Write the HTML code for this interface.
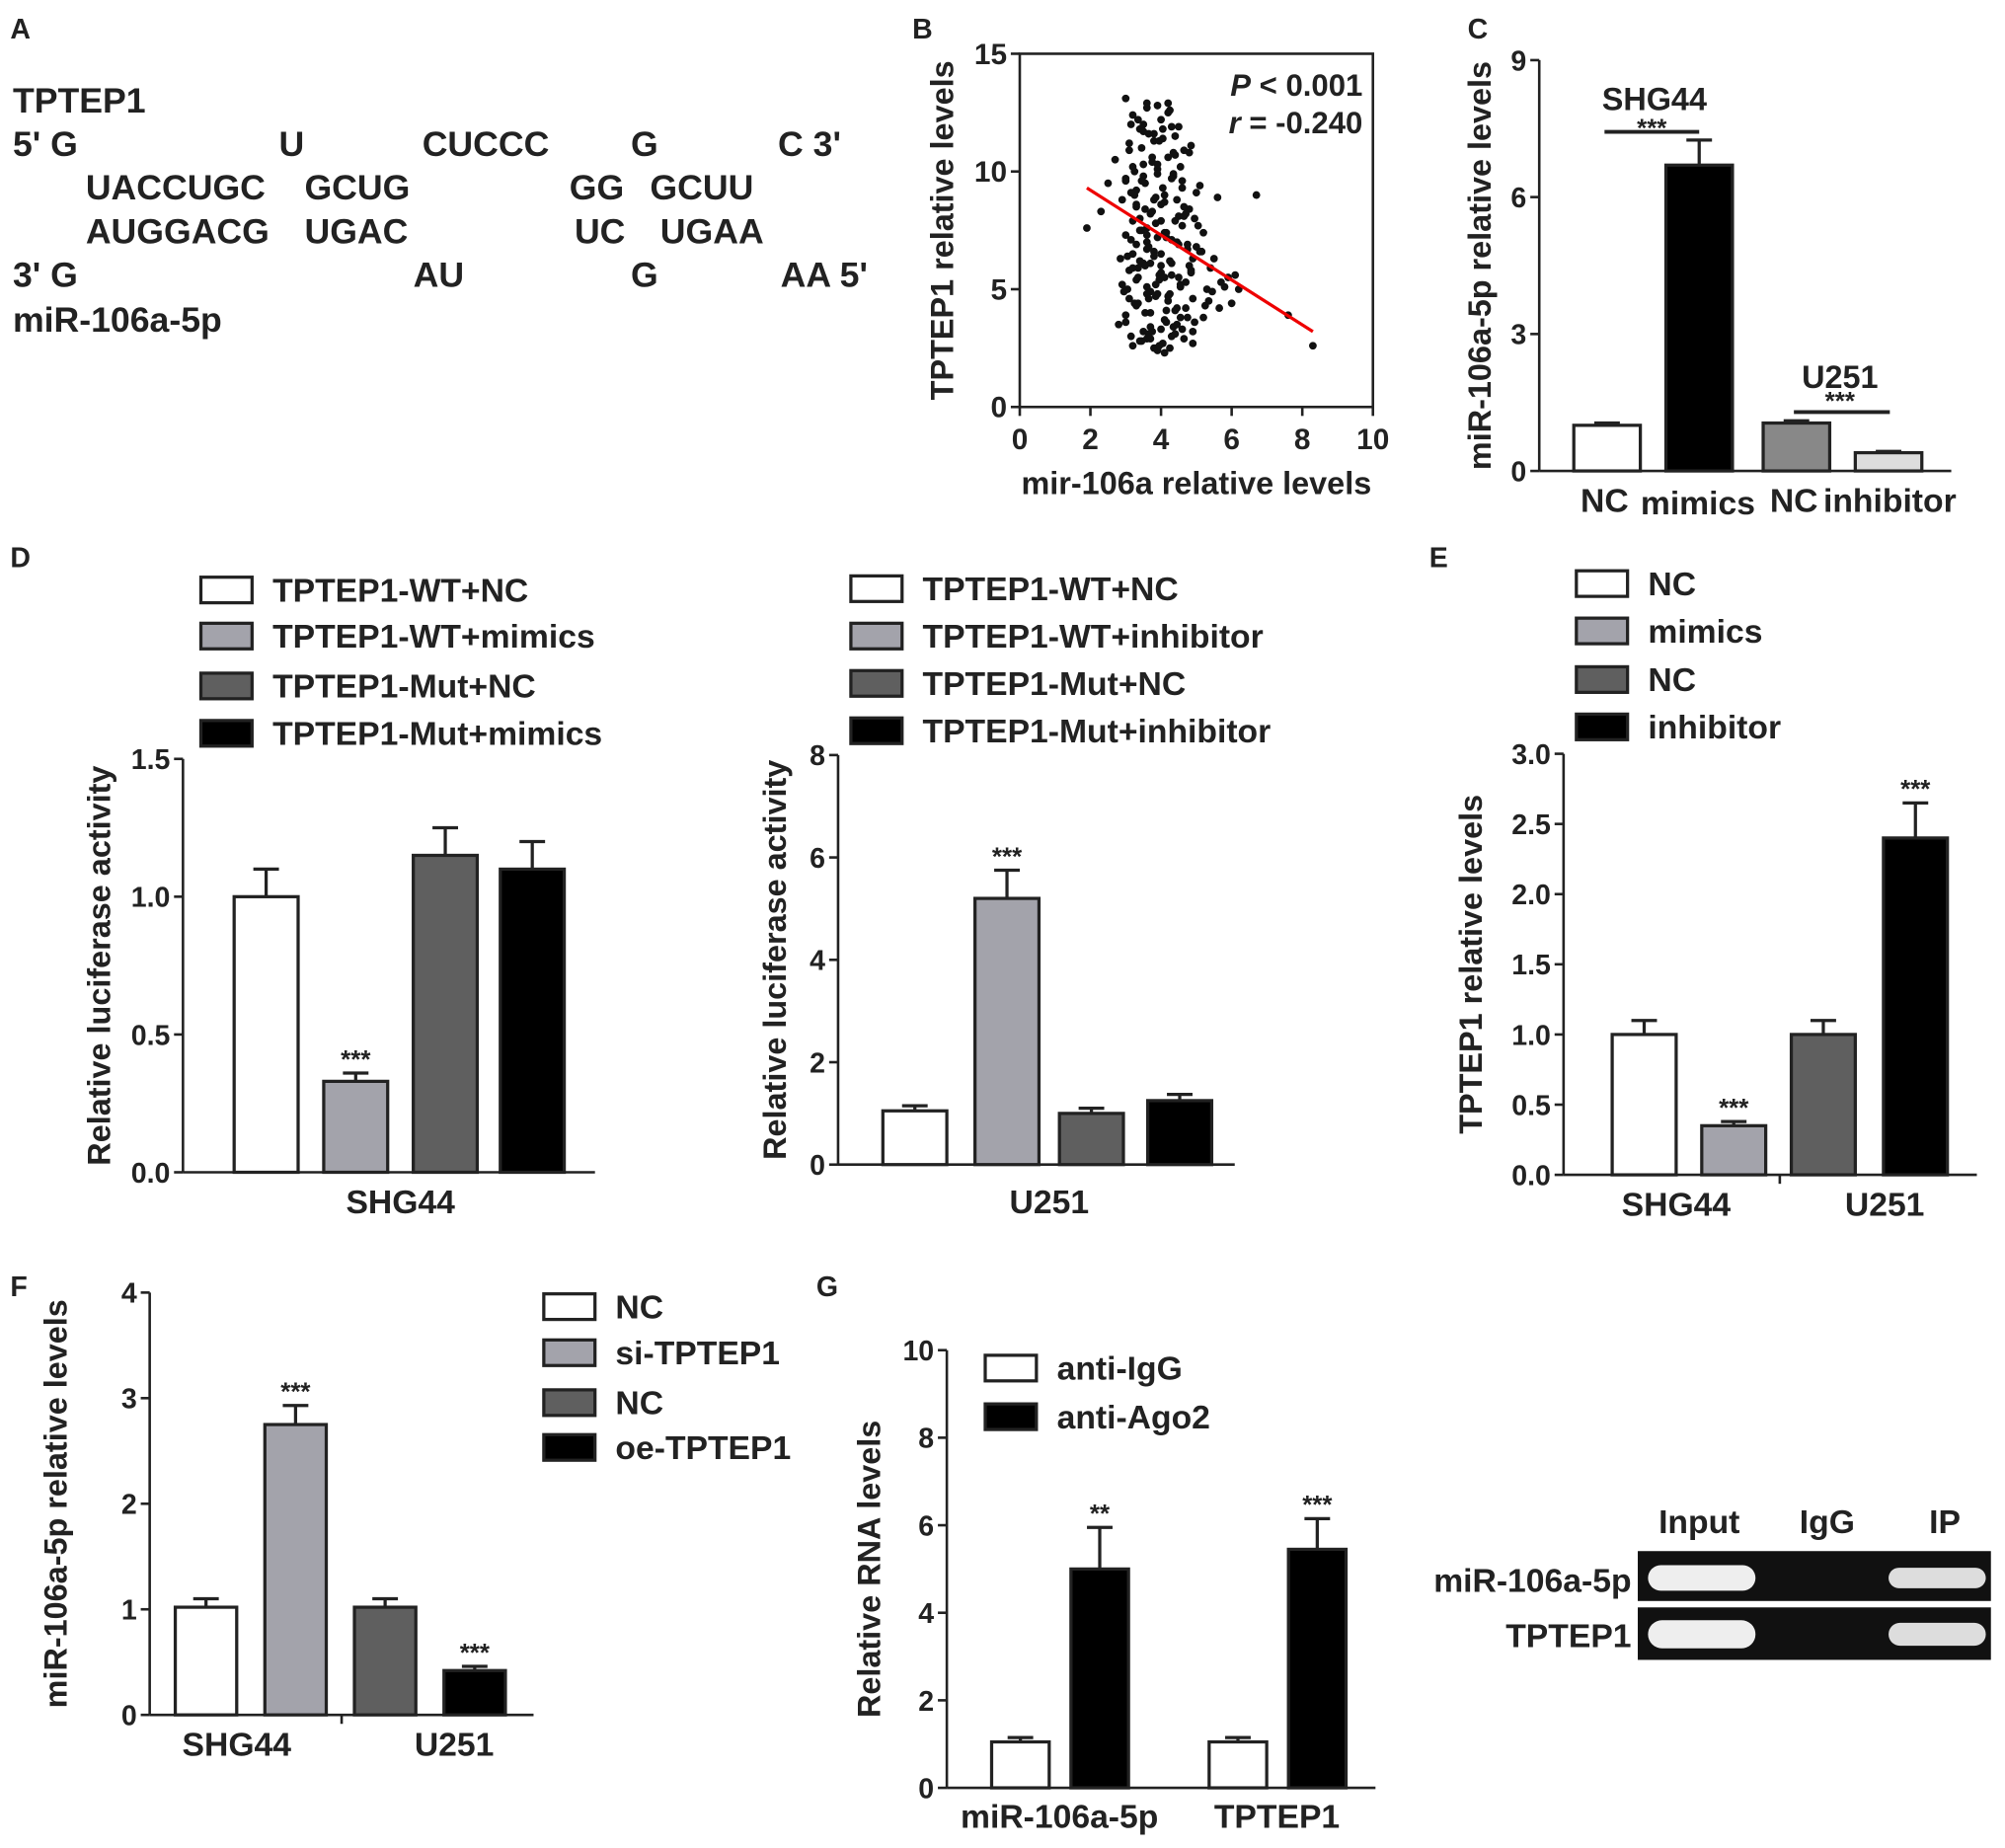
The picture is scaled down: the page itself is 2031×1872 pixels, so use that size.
<!DOCTYPE html>
<html><head><meta charset="utf-8"><style>
html,body{margin:0;padding:0;background:#fff}
svg{display:block;font-family:"Liberation Sans",Arial,sans-serif;font-weight:bold}
</style></head><body>
<svg id="fig" width="2031" height="1872" viewBox="0 0 1567 1444" preserveAspectRatio="none" xmlns="http://www.w3.org/2000/svg">
<g font-size="27.5" fill="#222">
<text x="8" y="30" font-size="22">A</text>
<text x="10" y="88">TPTEP1</text>
<text x="10" y="122">5' G</text><text x="218" y="122">U</text><text x="330" y="122">CUCCC</text><text x="493" y="122">G</text><text x="608" y="122">C 3'</text>
<text x="67" y="156">UACCUGC</text><text x="238" y="156">GCUG</text><text x="445" y="156">GG</text><text x="508" y="156">GCUU</text>
<text x="67" y="190">AUGGACG</text><text x="238" y="190">UGAC</text><text x="449" y="190">UC</text><text x="516" y="190">UGAA</text>
<text x="10" y="224">3' G</text><text x="323" y="224">AU</text><text x="493" y="224">G</text><text x="610" y="224">AA 5'</text>
<text x="10" y="259">miR-106a-5p</text>
</g>
<g font-size="22" fill="#222">
<text x="713" y="30">B</text><text x="1147" y="30">C</text><text x="8" y="443">D</text><text x="1117" y="443">E</text><text x="8" y="1013">F</text><text x="638" y="1013">G</text>
</g>
<g id="panelB"></g>
<g id="charts"></g>
<g>
<text x="1328" y="1198" font-size="26" text-anchor="middle" fill="#222">Input</text>
<text x="1428" y="1198" font-size="26" text-anchor="middle" fill="#222">IgG</text>
<text x="1520" y="1198" font-size="26" text-anchor="middle" fill="#222">IP</text>
<text x="1275" y="1244" font-size="26" text-anchor="end" fill="#222">miR-106a-5p</text>
<text x="1275" y="1287" font-size="26" text-anchor="end" fill="#222">TPTEP1</text>
<rect x="1280" y="1212" width="276" height="39" fill="#111"/>
<rect x="1280" y="1256" width="276" height="41" fill="#111"/>
<rect x="1288" y="1223" width="84" height="20" rx="10" fill="#eee"/>
<rect x="1476" y="1225" width="76" height="16" rx="8" fill="#ddd"/>
<rect x="1288" y="1266" width="84" height="22" rx="11" fill="#eee"/>
<rect x="1476" y="1268" width="76" height="18" rx="9" fill="#ddd"/>
</g>
</svg>
<script>
const NS="http://www.w3.org/2000/svg";
function mk(p,t,a,txt){const e=document.createElementNS(NS,t);for(const k in a)e.setAttribute(k,a[k]);if(txt!==undefined)e.textContent=txt;p.appendChild(e);return e;}
// ---- Panel B data ----
const scatterX=[3.0,3.2,3.4,3.1,3.6,3.8,4.0,4.2,3.5,3.3,3.9,4.4,4.6,4.1,3.7,3.2,3.0,2.9,3.3,3.6,4.8,5.0,4.3,3.8,3.4,3.1,4.0,4.5,5.2,5.5,3.6,3.9,4.2,4.7,3.3,3.0,2.8,3.5,4.1,4.4,4.9,5.3,3.7,3.2,3.8,4.3,4.6,3.4,3.9,4.0,2.7,3.1,3.6,4.2,4.8,5.1,5.6,3.5,3.0,4.5,3.8,3.3,4.1,4.6,5.0,3.7,3.2,4.4,3.9,3.4,4.0,4.3,4.7,3.6,3.1,5.4,5.8,6.0,3.8,4.2,3.5,2.9,4.9,4.1,3.7,3.3,4.5,3.0,3.9,4.4,5.2,3.6,4.0,3.4,4.8,1.9,2.3,2.5,6.7,7.6,6.2,8.3,5.9,3.2,4.6,3.8,4.1,3.5,4.3,3.7,5.1,3.0,4.9,3.6,4.2,
3.15,3.45,3.75,4.05,4.35,4.65,4.95,3.25,3.55,3.85,4.15,4.45,4.75,5.05,3.05,3.35,3.65,3.95,4.25,4.55,4.85,5.15,2.95,3.25,3.55,3.85,4.15,4.45,4.75,3.15,3.45,3.75,4.05,4.35,4.65,4.95,5.25,3.35,3.65,3.95,4.25,4.55,4.85,2.85,3.15,3.45,3.75,4.05,4.35,4.65,3.05,3.35,3.65,3.95,4.25,4.55,4.85,5.35,5.7,3.25,3.55,3.85,4.15,4.45,4.75,3.15,3.45,3.75,4.05,4.35,4.65,3.55,3.85,4.15,4.45,3.35,3.65,3.95,4.25,4.55,5.45,5.65,6.1,3.9,4.3,3.6,4.0,4.4,3.3,3.7,4.1,4.5,4.9,3.5,3.9,4.3,4.7,3.2,3.6,4.0];
const scatterY=[13.1,12.4,11.8,10.9,12.7,11.3,12.2,10.6,9.8,9.2,10.1,11.5,9.6,8.7,8.2,7.9,7.3,8.8,6.9,7.6,8.4,9.1,7.1,6.6,6.2,5.8,6.0,5.5,7.4,6.3,5.1,4.8,4.5,5.3,4.3,3.9,3.5,3.2,3.7,4.1,4.6,5.0,2.9,2.6,2.5,3.0,3.3,8.0,7.2,5.7,10.5,11.2,12.9,12.5,10.8,9.4,8.9,10.3,9.6,11.9,6.4,5.4,9.0,7.7,6.8,4.0,6.5,3.1,2.4,2.8,8.6,6.1,4.2,7.0,4.6,5.9,5.1,4.4,11.6,12.9,12.0,5.2,2.7,2.3,3.4,8.5,8.1,3.6,9.9,10.7,3.8,6.7,7.9,7.5,6.0,7.6,8.3,9.5,9.0,3.9,5.0,2.6,5.5,10.2,9.3,8.8,7.4,6.1,5.6,4.9,6.6,9.7,3.2,2.9,4.7,
12.0,11.0,10.4,11.8,9.8,10.9,8.0,9.0,8.4,7.8,7.2,8.8,6.9,7.7,6.4,5.9,6.8,5.6,6.2,5.2,5.8,6.6,4.9,4.4,4.0,4.7,3.6,4.2,3.8,3.0,2.8,3.2,2.7,3.4,2.9,3.6,4.3,12.2,11.6,11.3,12.6,10.2,11.1,6.3,7.1,7.5,8.3,9.3,9.9,8.5,5.0,5.5,4.6,5.4,4.8,5.1,5.7,4.5,5.3,10.0,9.5,8.9,7.4,7.0,6.7,9.1,9.6,10.6,11.4,10.8,8.1,6.0,5.2,4.1,3.5,4.4,3.1,2.6,2.5,3.8,4.9,4.2,5.6,12.8,11.9,7.3,6.5,7.9,8.6,6.1,5.5,6.9,6.3,11.7,10.3,9.7,8.2,5.9,4.8,3.3];
const scatterXTicks=[0,2,4,6,8,10], scatterYTicks=[0,5,10,15];
const fitLine=[[1.9,9.3],[8.3,3.2]];
(function(){
 const g=document.getElementById('panelB');
 const X0=797,X1=1073,Y0=318,Y1=42;
 const sx=v=>X0+v/10*(X1-X0), sy=v=>Y0-v/15*(Y0-Y1);
 mk(g,'rect',{x:X0,y:Y1,width:X1-X0,height:Y0-Y1,fill:'none',stroke:'#222','stroke-width':2});
 scatterXTicks.forEach(t=>{mk(g,'line',{x1:sx(t),x2:sx(t),y1:Y0,y2:Y0+7,stroke:'#222','stroke-width':2});const e=mk(g,'text',{x:sx(t),y:Y0+33,'font-size':23,'text-anchor':'middle',fill:'#222'},t);});
 scatterYTicks.forEach(t=>{mk(g,'line',{x1:X0-7,x2:X0,y1:sy(t),y2:sy(t),stroke:'#222','stroke-width':2});const e=mk(g,'text',{x:X0-10,y:sy(t)+8,'font-size':23,'text-anchor':'end',fill:'#222'},t);});
 scatterX.forEach((x,i)=>{const c=mk(g,'circle',{cx:sx(x),cy:sy(scatterY[i]),r:3,fill:'#111'});});
 const l=mk(g,'line',{x1:sx(fitLine[0][0]),y1:sy(fitLine[0][1]),x2:sx(fitLine[1][0]),y2:sy(fitLine[1][1]),stroke:'#e00','stroke-width':2.5});
 
 mk(g,'text',{x:1065,y:75,'font-size':24,'text-anchor':'end',fill:'#222'}).innerHTML='<tspan font-style="italic">P</tspan> &lt; 0.001';
 mk(g,'text',{x:1065,y:104,'font-size':24,'text-anchor':'end',fill:'#222'}).innerHTML='<tspan font-style="italic">r</tspan> = -0.240';
 const xt=mk(g,'text',{x:935,y:386,'font-size':25,'text-anchor':'middle',fill:'#222'},'mir-106a relative levels');
 const yt=mk(g,'text',{transform:'translate(745,180) rotate(-90)','font-size':25,'text-anchor':'middle',fill:'#222'},'TPTEP1 relative levels');
})();
// ---- Bar chart data ----
const cValues=[1.0,6.7,1.05,0.4], cErrors=[0.05,0.55,0.05,0.03], cTicks=[0,3,6,9], cCats=['NC','mimics','NC','inhibitor'];
const dLValues=[1.0,0.33,1.15,1.1], dLErrors=[0.1,0.03,0.1,0.1], dLTicks=[0,0.5,1.0,1.5];
const dRValues=[1.05,5.2,1.0,1.25], dRErrors=[0.1,0.55,0.1,0.12], dRTicks=[0,2,4,6,8];
const eValues=[1.0,0.35,1.0,2.4], eErrors=[0.1,0.03,0.1,0.25], eTicks=[0,0.5,1.0,1.5,2.0,2.5,3.0];
const fValues=[1.02,2.75,1.02,0.42], fErrors=[0.08,0.18,0.08,0.04], fTicks=[0,1,2,3,4];
const gValues=[1.05,5.0,1.05,5.45], gErrors=[0.1,0.95,0.1,0.7], gTicks=[0,2,4,6,8,10];
const WHITE='#fff',LG='#a3a3ab',DG='#5f5f5f',BK='#000';
function chart(o){
 const g=mk(document.getElementById('charts'),'g',{});
 
 const sy=v=>o.y0-v/o.max*(o.y0-o.y1);
 mk(g,'line',{x1:o.ax,x2:o.ax,y1:o.y1,y2:o.y0,stroke:'#222','stroke-width':2});
 mk(g,'line',{x1:o.ax,x2:o.axEnd,y1:o.y0,y2:o.y0,stroke:'#222','stroke-width':2});
 (o.xticks||[]).forEach(x=>mk(g,'line',{x1:x,x2:x,y1:o.y0,y2:o.y0+7,stroke:'#222','stroke-width':2}));
 o.ticks.forEach(t=>{mk(g,'line',{x1:o.ax-7,x2:o.ax,y1:sy(t),y2:sy(t),stroke:'#222','stroke-width':2});
  const e=mk(g,'text',{x:o.ax-10,y:sy(t)+8,'font-size':22,'text-anchor':'end',fill:'#222'},o.fmt?t.toFixed(1):t);
  });
 o.values.forEach((v,i)=>{const x=o.bx[i],w=o.bw,c=o.colors[i];
  const top=sy(v+o.errors[i]);
  mk(g,'line',{x1:x+w/2,x2:x+w/2,y1:top,y2:sy(v),stroke:'#222','stroke-width':2.5});
  mk(g,'line',{x1:x+w/2-10,x2:x+w/2+10,y1:top,y2:top,stroke:'#222','stroke-width':2.5});
  const r=mk(g,'rect',{x:x,y:sy(v),width:w,height:o.y0-sy(v),fill:c,stroke:'#222','stroke-width':2.5});
  
  if(o.stars&&o.stars[i]){const s=mk(g,'text',{x:x+w/2,y:top-4,'font-size':20,'text-anchor':'middle',fill:'#222'},o.stars[i]);}
 });
 o.labels.forEach(l=>{const e=mk(g,'text',{x:l[0],y:l[1],'font-size':26,'text-anchor':'middle',fill:'#222'},l[2]);});
 const yt=mk(g,'text',{transform:`translate(${o.ytx},${(o.y0+o.y1)/2}) rotate(-90)`,'font-size':25,'text-anchor':'middle',fill:'#222'},o.ytitle);
 
 if(o.legend){const lg=mk(g,'g',{});
  o.legend.items.forEach((it,i)=>{const y=o.legend.ys[i];
   const le=mk(lg,'g',{});
   mk(le,'rect',{x:o.legend.x,y:y-10,width:40,height:20,fill:o.colors[i],stroke:'#222','stroke-width':2.5});
   mk(le,'text',{x:o.legend.x+56,y:y+9,'font-size':26,fill:'#222'},it);});}
 return {g,sy};
}
const C=chart({name:'panel-c-chart',ax:1203,axEnd:1525,y0:368,y1:47,max:9,ticks:cTicks,values:cValues,errors:cErrors,bx:[1230,1302,1378,1450],bw:52,colors:[WHITE,BK,'#888','#ddd'],
 labels:[[1254,400,cCats[0]],[1327,402,cCats[1]],[1402,400,cCats[2]],[1477,400,cCats[3]]],ytx:1165,ytitle:'miR-106a-5p relative levels'});
mk(C.g,'text',{x:1293,y:86,'font-size':25,'text-anchor':'middle',fill:'#222'},'SHG44');
mk(C.g,'line',{x1:1254,x2:1328,y1:103,y2:103,stroke:'#222','stroke-width':3});
mk(C.g,'text',{x:1291,y:107,'font-size':20,'text-anchor':'middle',fill:'#222'},'***');
mk(C.g,'text',{x:1438,y:303,'font-size':25,'text-anchor':'middle',fill:'#222'},'U251');
mk(C.g,'line',{x1:1402,x2:1477,y1:322,y2:322,stroke:'#222','stroke-width':3});
mk(C.g,'text',{x:1438,y:320,'font-size':20,'text-anchor':'middle',fill:'#222'},'***');
chart({name:'panel-d-shg44-chart',ax:143,axEnd:465,y0:916,y1:593,max:1.5,fmt:true,ticks:dLTicks,values:dLValues,errors:dLErrors,bx:[183,253,323,391],bw:50,colors:[WHITE,LG,DG,BK],stars:['','***','',''],
 labels:[[313,948,'SHG44']],ytx:86,ytitle:'Relative luciferase activity',
 legend:{x:157,ys:[461,497,536,573],items:['TPTEP1-WT+NC','TPTEP1-WT+mimics','TPTEP1-Mut+NC','TPTEP1-Mut+mimics']}});
chart({name:'panel-d-u251-chart',ax:655,axEnd:965,y0:910,y1:590,max:8,ticks:dRTicks,values:dRValues,errors:dRErrors,bx:[690,762,828,897],bw:50,colors:[WHITE,LG,DG,BK],stars:['','***','',''],
 labels:[[820,948,'U251']],ytx:614,ytitle:'Relative luciferase activity',
 legend:{x:665,ys:[460,497,534,571],items:['TPTEP1-WT+NC','TPTEP1-WT+inhibitor','TPTEP1-Mut+NC','TPTEP1-Mut+inhibitor']}});
chart({name:'panel-e-chart',ax:1222,axEnd:1545,y0:918,y1:589,max:3,fmt:true,ticks:eTicks,values:eValues,errors:eErrors,bx:[1260,1330,1400,1472],bw:50,colors:[WHITE,LG,DG,BK],stars:['','***','','***'],xticks:[1391],
 labels:[[1310,950,'SHG44'],[1473,950,'U251']],ytx:1158,ytitle:'TPTEP1 relative levels',
 legend:{x:1232,ys:[456,493,531,568],items:['NC','mimics','NC','inhibitor']}});
chart({name:'panel-f-chart',ax:117,axEnd:417,y0:1340,y1:1010,max:4,ticks:fTicks,values:fValues,errors:fErrors,bx:[137,207,277,347],bw:48,colors:[WHITE,LG,DG,BK],stars:['','***','','***'],xticks:[267],
 labels:[[185,1372,'SHG44'],[355,1372,'U251']],ytx:52,ytitle:'miR-106a-5p relative levels',
 legend:{x:425,ys:[1021,1057,1096,1131],items:['NC','si-TPTEP1','NC','oe-TPTEP1']}});
chart({name:'panel-g-chart',ax:740,axEnd:1075,y0:1397,y1:1055,max:10,ticks:gTicks,values:gValues,errors:gErrors,bx:[775,837,945,1007],bw:45,colors:[WHITE,BK,WHITE,BK],stars:['','**','','***'],
 labels:[[828,1428,'miR-106a-5p'],[998,1428,'TPTEP1']],ytx:688,ytitle:'Relative RNA levels',
 legend:{x:770,ys:[1069,1107],items:['anti-IgG','anti-Ago2']}});
</script>
</body></html>
